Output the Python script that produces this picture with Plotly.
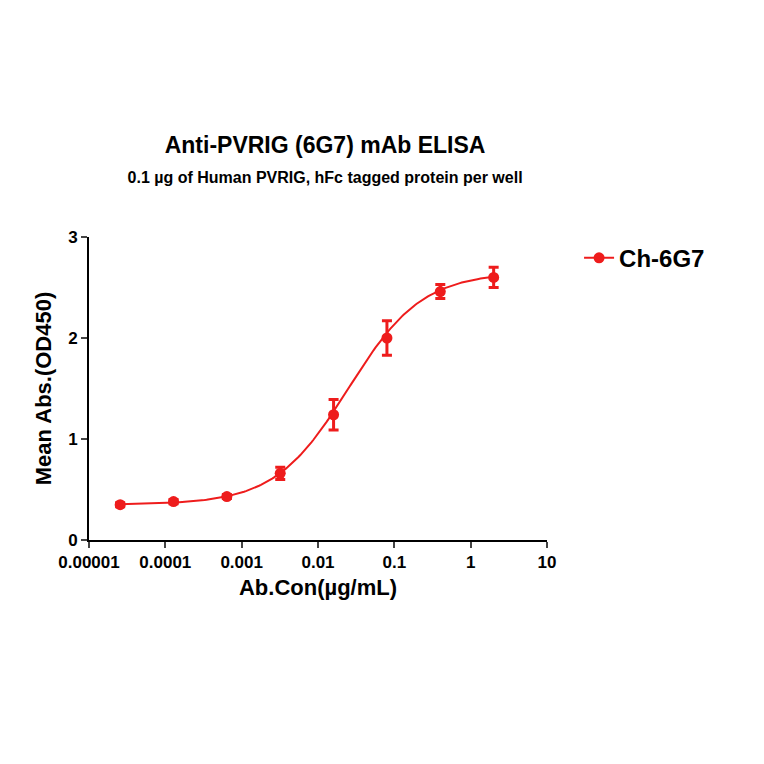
import numpy as np
import plotly.graph_objects as go

conc = [2.56e-5, 1.28e-4, 6.4e-4, 3.2e-3, 0.016, 0.08, 0.4, 2.0]
od450 = [0.35, 0.38, 0.43, 0.66, 1.24, 2.0, 2.46, 2.6]
err = [0.02, 0.02, 0.02, 0.06, 0.15, 0.17, 0.07, 0.1]
tick_vals = [1e-5, 1e-4, 1e-3, 1e-2, 1e-1, 1, 10]
tick_text = ["0.00001", "0.0001", "0.001", "0.01", "0.1", "1", "10"]

# 4PL fit parameters
bottom, top, ec50, hill = 0.35, 2.65, 0.025, 0.9
xs = np.logspace(np.log10(conc[0]), np.log10(conc[-1]), 200)
ys = bottom + (top - bottom) / (1 + (ec50 / xs) ** hill)

red = "#ee1c1c"
fig = go.Figure()
fig.add_trace(go.Scatter(x=xs, y=ys, mode="lines", line=dict(color=red, width=2),
                         showlegend=False, hoverinfo="skip"))
fig.add_trace(go.Scatter(x=conc, y=od450, mode="markers", showlegend=False,
                         marker=dict(color=red, size=11),
                         error_y=dict(type="data", array=err, color=red, thickness=3, width=5)))
fig.add_trace(go.Scatter(x=[None], y=[None], mode="lines+markers", name="<b>Ch-6G7</b>",
                         line=dict(color=red, width=2), marker=dict(color=red, size=11)))

axis_font = dict(family="Liberation Sans", size=17, color="black", weight="bold")
fig.update_layout(
    width=764, height=764, plot_bgcolor="white", paper_bgcolor="white",
    margin=dict(l=81, r=225, t=229, b=232),
    font=dict(family="Liberation Sans", color="black"),
    title=dict(text="<b>Anti-PVRIG (6G7) mAb ELISA</b><br><span style='font-size:16px'><b>0.1 µg of Human PVRIG, hFc tagged protein per well</b></span>",
               x=0.415, xanchor="center", y=0.81, yanchor="top", font=dict(size=23)),
    legend=dict(x=1.07, y=0.93, xanchor="left", yanchor="middle",
                font=dict(size=24, family="Liberation Sans"), bgcolor="rgba(0,0,0,0)"),
    xaxis=dict(type="log", range=[-5, 1], tickvals=tick_vals, ticktext=tick_text,
               showgrid=False, zeroline=False, showline=True, linecolor="black", linewidth=2,
               ticks="outside", ticklen=6, tickwidth=2, tickfont=axis_font,
               title=dict(text="<b>Ab.Con(µg/mL)</b>", font=dict(size=22), standoff=8)),
    yaxis=dict(range=[0, 3], tickvals=[0, 1, 2, 3], showgrid=False, zeroline=False,
               showline=True, linecolor="black", linewidth=2,
               ticks="outside", ticklen=6, tickwidth=2, tickfont=axis_font,
               title=dict(text="<b>Mean Abs.(OD450)</b>", font=dict(size=22), standoff=10)),
)
fig.write_html("out.html")
